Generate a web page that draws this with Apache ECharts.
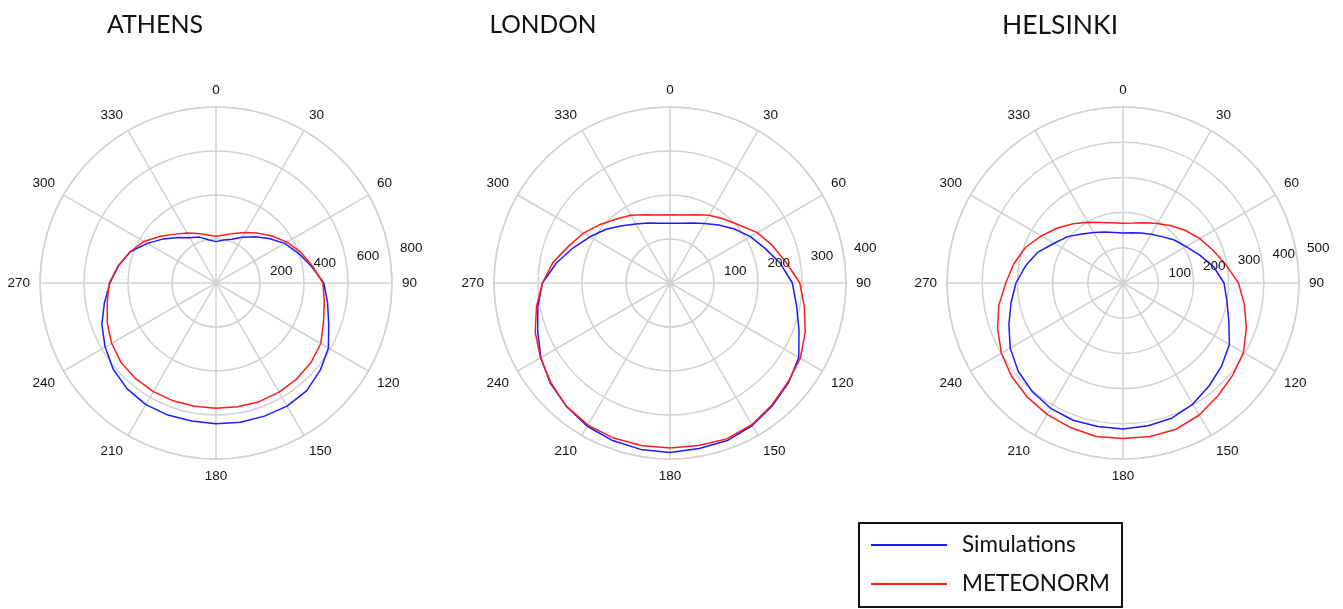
<!DOCTYPE html>
<html>
<head>
<meta charset="utf-8">
<script src="https://cdn.jsdelivr.net/npm/echarts@6/dist/echarts.min.js"></script>
<style>
  html, body { margin: 0; padding: 0; background: #ffffff; }
  #chart { width: 1343px; height: 609px; }
</style>
</head>
<body>
<div id="chart"></div>
<script>
// Wind-rose style polar profiles, one value every 10 degrees (0 = north, clockwise)
const directions = [0, 10, 20, 30, 40, 50, 60, 70, 80, 90, 100, 110, 120, 130, 140, 150, 160, 170,
                    180, 190, 200, 210, 220, 230, 240, 250, 260, 270, 280, 290, 300, 310, 320, 330, 340, 350];

const cityNames = ['ATHENS', 'LONDON', 'HELSINKI'];
const seriesNames = ['Simulations', 'METEONORM'];

const athensSimulations = [188, 198, 212, 240, 275, 315, 360, 398, 440, 490, 515, 545, 590, 618, 640, 646, 644, 643,
                           640, 637, 639, 638, 628, 610, 582, 552, 515, 482, 450, 415, 360, 312, 270, 238, 222, 200];
const athensMeteonorm   = [212, 222, 240, 265, 296, 332, 372, 410, 445, 486, 500, 520, 550, 563, 570, 573, 574, 571,
                           569, 569, 570, 570, 568, 563, 548, 526, 502, 485, 452, 415, 378, 330, 290, 262, 240, 222];

const londonSimulations = [136, 138, 145, 156, 172, 191, 211, 230, 255, 278, 292, 312, 338, 352, 363, 374, 381, 382,
                           385, 384, 381, 376, 366, 355, 339, 320, 305, 290, 262, 234, 210, 190, 170, 155, 145, 138];
const londonMeteonorm   = [155, 157, 165, 178, 190, 205, 229, 248, 268, 295, 310, 327, 342, 350, 361, 372, 377, 375,
                           375, 375, 375, 373, 366, 353, 340, 326, 308, 290, 270, 245, 227, 207, 190, 178, 165, 157];

const helsinkiSimulations = [142, 145, 151, 160, 172, 190, 207, 232, 262, 287, 300, 320, 349, 366, 381, 397, 408, 412,
                             415, 414, 415, 411, 402, 389, 370, 345, 323, 304, 281, 257, 226, 205, 182, 166, 154, 146];
const helsinkiMeteonorm   = [170, 173, 182, 195, 212, 232, 252, 272, 297, 328, 350, 373, 395, 407, 419, 433, 442, 443,
                             442, 443, 437, 431, 423, 413, 399, 379, 358, 333, 315, 295, 268, 243, 220, 199, 183, 174];

// Ring values shown on each radius axis
const athensRings = [200, 400, 600, 800];
const londonRings = [100, 200, 300, 400];
const helsinkiRings = [100, 200, 300, 400, 500];

// Angle tick step in degrees
const angleStep = 30;

const panels = [
  { name: cityNames[0], sim: athensSimulations, met: athensMeteonorm, rings: athensRings, cx: 216 },
  { name: cityNames[1], sim: londonSimulations, met: londonMeteonorm, rings: londonRings, cx: 670 },
  { name: cityNames[2], sim: helsinkiSimulations, met: helsinkiMeteonorm, rings: helsinkiRings, cx: 1123 }
];

const CY = 283;
const RADIUS = 176;
const GRID = '#d2d2d2';
const BLUE = '#1c1cff';
const RED = '#ff1c1c';
const TICK_FONT = 'Liberation Sans, Arial, sans-serif';
const TEXT_FONT = 'Lato, Open Sans, sans-serif';

function closedLoop(values) {
  const pts = values.map((v, i) => [v, directions[i]]);
  pts.push([values[0], 360]);
  return pts;
}

const chart = echarts.init(document.getElementById('chart'), null, { renderer: 'canvas' });

const polar = [], angleAxis = [], radiusAxis = [], series = [];
panels.forEach((p, i) => {
  polar.push({ center: [p.cx, CY], radius: RADIUS });
  angleAxis.push({
    polarIndex: i,
    type: 'value',
    min: 0,
    max: 360,
    interval: angleStep,
    startAngle: 90,
    clockwise: true,
    axisLine: { show: true, lineStyle: { color: GRID, width: 1.5 } },
    axisTick: { show: false },
    splitLine: { show: true, lineStyle: { color: GRID, width: 1.5 } },
    axisLabel: {
      margin: 10,
      align: 'center',
      verticalAlign: 'middle',
      color: '#111',
      fontFamily: TICK_FONT,
      fontSize: 13.5,
      formatter: v => (v >= 360 ? '' : String(v))
    }
  });
  radiusAxis.push({
    polarIndex: i,
    type: 'value',
    min: 0,
    max: p.rings[p.rings.length - 1],
    interval: p.rings[0],
    axisLine: { show: false },
    axisTick: { show: false },
    axisLabel: { show: false },
    splitLine: { show: true, lineStyle: { color: GRID, width: 1.5 } }
  });
  series.push({
    type: 'line',
    name: seriesNames[0],
    coordinateSystem: 'polar',
    polarIndex: i,
    data: closedLoop(p.sim),
    symbol: 'none',
    showSymbol: false,
    silent: true,
    lineStyle: { color: BLUE, width: 1.5 },
    itemStyle: { color: BLUE },
    z: 3
  });
  series.push({
    type: 'line',
    name: seriesNames[1],
    coordinateSystem: 'polar',
    polarIndex: i,
    data: closedLoop(p.met),
    symbol: 'none',
    showSymbol: false,
    silent: true,
    lineStyle: { color: RED, width: 1.5 },
    itemStyle: { color: RED },
    z: 4
  });
});

chart.setOption({
  animation: false,
  backgroundColor: '#ffffff',
  polar,
  angleAxis,
  radiusAxis,
  series,
  legend: {
    data: seriesNames,
    orient: 'vertical',
    left: 859,
    top: 523,
    icon: 'rect',
    itemWidth: 76,
    itemHeight: 2,
    itemGap: 11,
    padding: [8, 12, 9, 12],
    borderColor: '#111',
    borderWidth: 2,
    selectedMode: false,
    textStyle: {
      fontFamily: TEXT_FONT,
      fontSize: 22.5,
      color: '#111',
      lineHeight: 28,
      padding: [0, 0, 0, 10]
    }
  }
});

// City titles and radius ring labels (placed through each polar's own scale)
const graphics = [];
const titleCenters = [155, 543, 1060];
const titleSizes = [25, 24.5, 26.5];
panels.forEach((p, i) => {
  graphics.push({
    type: 'text',
    x: titleCenters[i],
    y: 25,
    style: {
      text: p.name,
      fill: '#111',
      font: titleSizes[i] + 'px ' + TEXT_FONT,
      textAlign: 'center',
      textVerticalAlign: 'middle'
    }
  });
  p.rings.forEach(v => {
    const pt = chart.convertToPixel({ seriesIndex: i * 2 }, [v, 80]);
    graphics.push({
      type: 'text',
      x: pt[0] + 22,
      y: pt[1] - 4,
      silent: true,
      z: 10,
      style: {
        text: String(v),
        fill: '#111',
        font: '13.5px ' + TICK_FONT,
        textAlign: 'center',
        textVerticalAlign: 'middle'
      }
    });
  });
});

chart.setOption({ graphic: graphics });
</script>
</body>
</html>
